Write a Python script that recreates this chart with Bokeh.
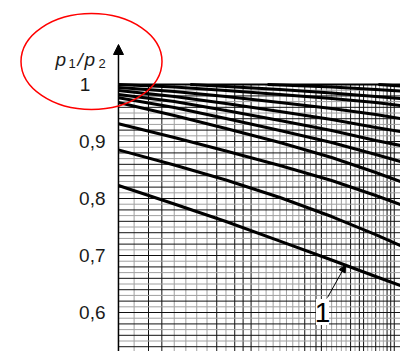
from bokeh.plotting import figure
from bokeh.models import Range1d, ColumnDataSource, Arrow, NormalHead
from bokeh.core.properties import value
from bokeh.embed import file_html
from bokeh.resources import INLINE

# ---------------- data ----------------
# shared x positions (log axis, arbitrary units of the grid)
X_PTS = [11, 15, 20, 27, 36, 46, 52.8]

# p1/p2 curves starting at the left edge (bottom -> top)
CURVE_1 = [0.8228, 0.7904, 0.7596, 0.7254, 0.6921, 0.6632, 0.6474]
CURVE_2 = [0.8854, 0.8588, 0.8325, 0.8018, 0.7684, 0.7368, 0.7175]
CURVE_3 = [0.9311, 0.9070, 0.8833, 0.8579, 0.8316, 0.8053, 0.7895]
CURVE_4 = [0.9684, 0.9456, 0.9228, 0.8982, 0.8719, 0.8456, 0.8298]
CURVE_5 = [0.9767, 0.9596, 0.9404, 0.9193, 0.8982, 0.8772, 0.8649]
CURVE_6 = [0.9825, 0.9702, 0.9544, 0.9368, 0.9193, 0.9018, 0.8930]
CURVE_7 = [0.9895, 0.9789, 0.9667, 0.9526, 0.9386, 0.9246, 0.9175]
CURVE_8 = [0.9947, 0.9877, 0.9789, 0.9684, 0.9579, 0.9474, 0.9404]
CURVE_9 = [1.0000, 0.9956, 0.9895, 0.9825, 0.9754, 0.9684, 0.9632]

# curves that start on the top line further right
X_10 = [16.4, 20, 27, 36, 46, 52.8]
CURVE_10 = [1.0, 0.9965, 0.9912, 0.9851, 0.9789, 0.9754]
X_11 = [25.2, 36, 46, 52.8]
CURVE_11 = [1.0, 0.9956, 0.9912, 0.9886]
X_12 = [46.7, 52.8]
CURVE_12 = [1.0, 0.9974]

# grid
GRID_X = list(range(11, 52))
GRID_Y = [round(0.53 + 0.01 * i, 2) for i in range(48)]

# axis tick labels
Y_TICKS = [1.0, 0.9, 0.8, 0.7, 0.6]
Y_TICK_LABELS = ["1", "0,9", "0,8", "0,7", "0,6"]

CURVE_LABEL = "1"
CURVE_LABEL_X = 38.9
CURVE_LABEL_Y = 0.683

# ---------------- figure ----------------
W, H = 400, 351
X_START, X_END = 5.707, 52.8
Y_START, Y_END = 0.5316, 1.1474

def px_to_x(px):
    return X_START * (X_END / X_START) ** (px / W)

def py_to_y(py):
    return Y_END - (Y_END - Y_START) * py / H

p = figure(width=W, height=H, x_axis_type="log",
           x_range=Range1d(X_START, X_END), y_range=Range1d(Y_START, Y_END),
           x_axis_location=None, y_axis_location=None,
           toolbar_location=None, output_backend="svg",
           min_border=0, outline_line_color=None,
           background_fill_color="white", border_fill_color="white")
p.grid.visible = False

FONT = value("Liberation Sans")

# vertical grid lines (mixed dark / grey like the scanned sheet)
VCOL_PATTERN = "KGKKGGGGKGKKKGGGGGGGKGKKGGGGGKGKKGGKGGKKK"
vcols = ["#111111" if c == "K" else "#a0a0a0" for c in VCOL_PATTERN]
p.segment(x0=GRID_X, y0=[Y_START] * len(GRID_X), x1=GRID_X, y1=[1.0] * len(GRID_X),
          line_color=vcols, line_width=1)

# horizontal grid lines
hcols = ["#111111" if (round(v * 100) % 2 == 0) else "#a0a0a0" for v in GRID_Y]
p.segment(x0=[GRID_X[0]] * len(GRID_Y), y0=GRID_Y, x1=[X_END] * len(GRID_Y), y1=GRID_Y,
          line_color=hcols, line_width=1)

# top boundary line
p.segment(x0=[GRID_X[0]], y0=[1.0], x1=[X_END], y1=[1.0], line_color="black", line_width=2)

# y axis with arrow
p.segment(x0=[GRID_X[0]], y0=[Y_START], x1=[GRID_X[0]], y1=[1.0], line_color="black", line_width=1.5)
p.add_layout(Arrow(end=NormalHead(size=10, fill_color="black", line_color="black"),
                   x_start=GRID_X[0], y_start=1.0, x_end=GRID_X[0], y_end=py_to_y(44),
                   line_color="black", line_width=1.5))

# curves
for ys in [CURVE_1, CURVE_2, CURVE_3, CURVE_4, CURVE_5, CURVE_6, CURVE_7, CURVE_8, CURVE_9]:
    p.line(X_PTS, ys, line_color="black", line_width=3, line_join="round")
for xs, ys in [(X_10, CURVE_10), (X_11, CURVE_11), (X_12, CURVE_12)]:
    p.line(xs, ys, line_color="black", line_width=3, line_join="round")

# tick labels
p.text(x=[GRID_X[0]] * 4, y=Y_TICKS[1:], text=Y_TICK_LABELS[1:], x_offset=-13,
       text_align="right", text_baseline="middle", text_font=FONT,
       text_font_size="19px", text_color="#1a1a1a")
p.text(x=[GRID_X[0]], y=Y_TICKS[:1], text=Y_TICK_LABELS[:1], x_offset=-33.5,
       text_align="center", text_baseline="middle", text_font=FONT,
       text_font_size="19px", text_color="#1a1a1a")

# axis title p1/p2 with subscripts
title_src = ColumnDataSource(dict(
    x=[GRID_X[0]] * 5, y=[1.0] * 5,
    text=["p", "1", "/", "p", "2"],
    xo=[-63, -50, -41, -34, -20],
    yo=[-25, -21.5, -25, -25, -21.5],
    size=["19px", "13px", "19px", "19px", "13px"],
    style=["italic", "normal", "italic", "italic", "normal"],
))
p.text(x="x", y="y", text="text", x_offset="xo", y_offset="yo", source=title_src,
       text_font_size="size", text_font_style="style", text_font=FONT,
       text_align="left", text_baseline="alphabetic", text_color="#1a1a1a")

# red ellipse highlight
p.ellipse(x=[px_to_x(91)], y=[py_to_y(61)], width=141, height=96,
          width_units="screen", height_units="screen",
          fill_color=None, line_color="red", line_width=1.5)

# curve label "1" with arrow
lx, ly = px_to_x(322), py_to_y(311.5)
p.rect(x=[lx], y=[ly], width=13, height=26, width_units="screen", height_units="screen",
       fill_color="white", line_color=None)
p.text(x=[lx], y=[ly], text=[CURVE_LABEL], text_align="center", text_baseline="middle",
       text_font=FONT, text_font_size="28px", text_color="black")
p.add_layout(Arrow(end=NormalHead(size=7, fill_color="black", line_color="black"),
                   x_start=px_to_x(327), y_start=py_to_y(297),
                   x_end=CURVE_LABEL_X, y_end=CURVE_LABEL_Y,
                   line_color="black", line_width=1))

open("out.html", "w").write(file_html(p, INLINE))
